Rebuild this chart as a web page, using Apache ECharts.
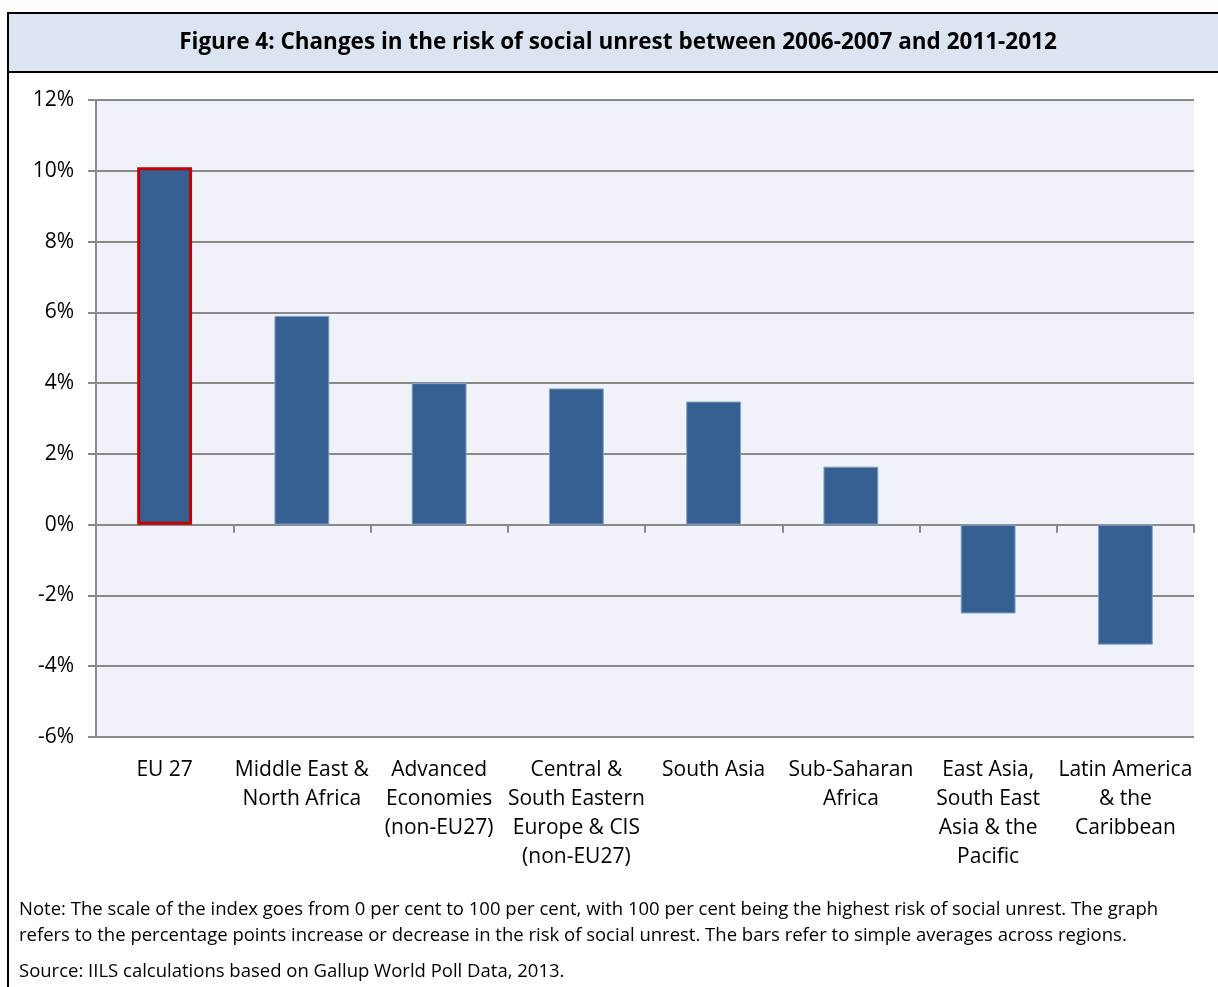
<!DOCTYPE html>
<html>
<head>
<meta charset="utf-8">
<script src="https://cdn.jsdelivr.net/npm/echarts@6/dist/echarts.min.js"></script>
<style>
html,body{margin:0;padding:0;background:#fff;}
#chart{width:1218px;height:987px;}
</style>
</head>
<body>
<div id="chart"></div>
<script>
const titleText = 'Figure 4: Changes in the risk of social unrest between 2006-2007 and 2011-2012';
const categories = [
  'EU 27',
  'Middle East &\nNorth Africa',
  'Advanced\nEconomies\n(non-EU27)',
  'Central &\nSouth Eastern\nEurope & CIS\n(non-EU27)',
  'South Asia',
  'Sub-Saharan\nAfrica',
  'East Asia,\nSouth East\nAsia & the\nPacific',
  'Latin America\n& the\nCaribbean'
];
const values = [10.1, 5.9, 4.0, 3.85, 3.48, 1.64, -2.51, -3.39];
const highlighted = ['EU 27'];
const yMin = -6, yMax = 12, yStep = 2;
const noteLines = [
  'Note: The scale of the index goes from 0 per cent to 100 per cent, with 100 per cent being the highest risk of social unrest. The graph',
  'refers to the percentage points increase or decrease in the risk of social unrest. The bars refer to simple averages across regions.'
];
const sourceText = 'Source: IILS calculations based on Gallup World Poll Data, 2013.';

const FONT = '"Open Sans", Lato, sans-serif';
const chart = echarts.init(document.getElementById('chart'), null, {renderer: 'canvas'});

const barData = values.map((v, i) => {
  const item = {value: v};
  if (highlighted.includes(categories[i])) {
    item.itemStyle = {borderColor: '#c00000', borderWidth: 3};
  }
  return item;
});

chart.setOption({
  backgroundColor: '#ffffff',
  animation: false,
  graphic: [
    {type: 'rect', z: -10, shape: {x: 8, y: 13, width: 1240, height: 1000},
     style: {fill: '#ffffff', stroke: '#000', lineWidth: 2}},
    {type: 'rect', z: -9, shape: {x: 8, y: 13, width: 1240, height: 59},
     style: {fill: '#dbe5f1', stroke: '#000', lineWidth: 2}},
    {type: 'text', z: 10, x: 618, y: 43,
     style: {text: titleText, font: 'bold 22.5px ' + FONT, fill: '#000', align: 'center', verticalAlign: 'middle'}},
    {type: 'text', z: 10, x: 19, y: 910,
     style: {text: noteLines[0], font: '18.5px ' + FONT, fill: '#000', align: 'left', verticalAlign: 'middle'}},
    {type: 'text', z: 10, x: 19, y: 936,
     style: {text: noteLines[1], font: '18.5px ' + FONT, fill: '#000', align: 'left', verticalAlign: 'middle'}},
    {type: 'text', z: 10, x: 19, y: 972,
     style: {text: sourceText, font: '18.5px ' + FONT, fill: '#000', align: 'left', verticalAlign: 'middle'}}
  ],
  grid: {left: 96, right: 24, top: 100, bottom: 250, show: true, backgroundColor: '#eff3f9', borderWidth: 0},
  xAxis: [
    {type: 'category', data: categories, position: 'bottom',
     axisLine: {show: true, onZero: true, lineStyle: {color: '#8a8a8a', width: 2}},
     axisTick: {show: true, length: 8, lineStyle: {color: '#8a8a8a', width: 2}},
     axisLabel: {show: false}, splitLine: {show: false}},
    {type: 'category', data: categories, position: 'bottom',
     axisLine: {show: false, onZero: false}, axisTick: {show: false},
     axisLabel: {show: true, interval: 0, margin: 19, fontFamily: FONT, fontSize: 21, color: '#000', lineHeight: 29, align: 'center', verticalAlign: 'top'},
     splitLine: {show: false}}
  ],
  yAxis: {
    type: 'value', min: yMin, max: yMax, interval: yStep,
    axisLine: {show: true, lineStyle: {color: '#8a8a8a', width: 2}},
    axisTick: {show: true, length: 8, lineStyle: {color: '#8a8a8a', width: 2}},
    axisLabel: {formatter: v => v + '%', fontFamily: FONT, fontSize: 21, color: '#000', margin: 22},
    splitLine: {show: true, lineStyle: {color: '#8a8a8a', width: 2}}
  },
  series: [{
    type: 'bar', xAxisIndex: 0, data: barData, barWidth: '40%',
    itemStyle: {color: '#366092', borderColor: '#8aa3c4', borderWidth: 1}
  }]
});
</script>
</body>
</html>
